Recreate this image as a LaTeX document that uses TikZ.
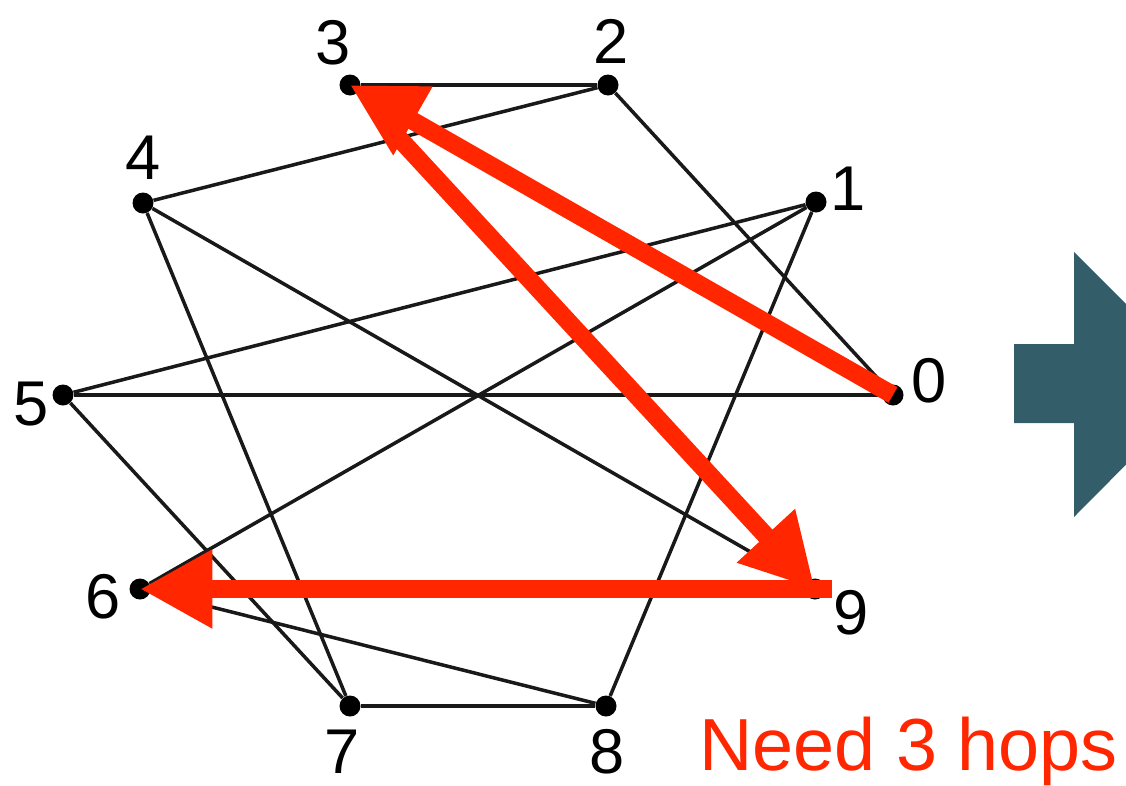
\documentclass[tikz,border=0pt]{standalone}
\usepackage{fontspec}
\setmainfont{Liberation Sans}
\usepackage{tikz}
\usetikzlibrary{arrows.meta}

\definecolor{vermelho}{RGB}{255,38,0}
\definecolor{petroleo}{RGB}{52,93,106}

\begin{document}
\begin{tikzpicture}[
    x=0.02cm, y=-0.02cm,
    vertice/.style={circle, fill=black, inner sep=0pt, minimum size=0.42cm},
    aresta/.style={line width=2pt, black!90},
    salto/.style={vermelho, line width=0.36cm, -{Triangle[length=1.45cm, width=1.48cm]}},
    rot/.style={font=\fontsize{36}{36}\selectfont, inner sep=0pt}
]
\useasboundingbox (0,0) rectangle (1126,785);
\clip (0,0) rectangle (1126,785);

% vertices
\node[vertice] (v0) at (893,395) {};
\node[vertice] (v1) at (816,202) {};
\node[vertice] (v2) at (608,85) {};
\node[vertice] (v3) at (350,85) {};
\node[vertice] (v4) at (143,203) {};
\node[vertice] (v5) at (63,395) {};
\node[vertice] (v6) at (140,589) {};
\node[vertice] (v7) at (350,706) {};
\node[vertice] (v8) at (606,706) {};
\node[vertice] (v9) at (815,589) {};

% rotulos
\node[rot] (r0) at (929,381) {0};
\node[rot] (r1) at (848,189) {1};
\node[rot] (r2) at (611,41) {2};
\node[rot] (r3) at (333,43) {3};
\node[rot] (r4) at (143,158) {4};
\node[rot] (r5) at (31,404) {5};
\node[rot] (r6) at (103,597) {6};
\node[rot] (r7) at (342,752) {7};
\node[rot] (r8) at (607,752) {8};
\node[rot] (r9) at (851,613) {9};

% arestas
\draw[aresta] (v3) -- (v2);
\draw[aresta] (v2) -- (v4);
\draw[aresta] (v2) -- (v0);
\draw[aresta] (v4) -- (v7);
\draw[aresta] (v4) -- (v9);
\draw[aresta] (v1) -- (v5);
\draw[aresta] (v1) -- (v6);
\draw[aresta] (v1) -- (v8);
\draw[aresta] (v5) -- (v0);
\draw[aresta] (v5) -- (v7);
\draw[aresta] (v6) -- (v8);
\draw[aresta] (v7) -- (v8);

% caminho de 3 saltos
\draw[salto, shorten <=1.45cm] (v3.center) -- (v9.center);
\draw[salto, shorten <=-0.34cm] (v9.center) -- (v6.center);
\draw[salto] (v0.center) -- (v3.center);

\node[anchor=base west, inner sep=0pt, text=vermelho, font=\fontsize{42}{42}\selectfont] (hops) at (699,770) {Need 3 hops};

% seta larga
\fill[petroleo] (1014,344) -- (1074,344) -- (1074,252) -- (1206,384) -- (1074,517) -- (1074,423) -- (1014,423) -- cycle;
\end{tikzpicture}
\end{document}
